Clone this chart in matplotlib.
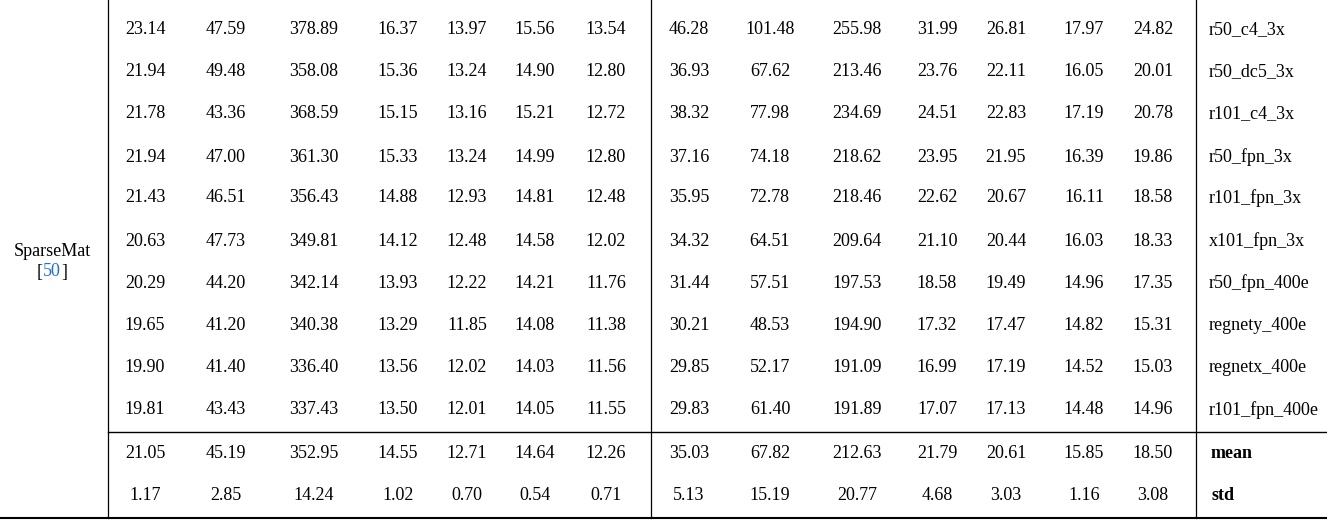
import matplotlib
matplotlib.use("Agg")
import matplotlib.pyplot as plt

method = "SparseMat"
ref = "50"
configs = ["r50_c4_3x","r50_dc5_3x","r101_c4_3x","r50_fpn_3x","r101_fpn_3x","x101_fpn_3x",
           "r50_fpn_400e","regnety_400e","regnetx_400e","r101_fpn_400e"]
values = [
 ["23.14","47.59","378.89","16.37","13.97","15.56","13.54","46.28","101.48","255.98","31.99","26.81","17.97","24.82"],
 ["21.94","49.48","358.08","15.36","13.24","14.90","12.80","36.93","67.62","213.46","23.76","22.11","16.05","20.01"],
 ["21.78","43.36","368.59","15.15","13.16","15.21","12.72","38.32","77.98","234.69","24.51","22.83","17.19","20.78"],
 ["21.94","47.00","361.30","15.33","13.24","14.99","12.80","37.16","74.18","218.62","23.95","21.95","16.39","19.86"],
 ["21.43","46.51","356.43","14.88","12.93","14.81","12.48","35.95","72.78","218.46","22.62","20.67","16.11","18.58"],
 ["20.63","47.73","349.81","14.12","12.48","14.58","12.02","34.32","64.51","209.64","21.10","20.44","16.03","18.33"],
 ["20.29","44.20","342.14","13.93","12.22","14.21","11.76","31.44","57.51","197.53","18.58","19.49","14.96","17.35"],
 ["19.65","41.20","340.38","13.29","11.85","14.08","11.38","30.21","48.53","194.90","17.32","17.47","14.82","15.31"],
 ["19.90","41.40","336.40","13.56","12.02","14.03","11.56","29.85","52.17","191.09","16.99","17.19","14.52","15.03"],
 ["19.81","43.43","337.43","13.50","12.01","14.05","11.55","29.83","61.40","191.89","17.07","17.13","14.48","14.96"],
]
summary_labels = ["mean","std"]
summary = [
 ["21.05","45.19","352.95","14.55","12.71","14.64","12.26","35.03","67.82","212.63","21.79","20.61","15.85","18.50"],
 ["1.17","2.85","14.24","1.02","0.70","0.54","0.71","5.13","15.19","20.77","4.68","3.03","1.16","3.08"],
]

W, H = 1327, 528
fig = plt.figure(figsize=(W/100, H/100), dpi=100)
ax = fig.add_axes([0, 0, 1, 1])
ax.set_xlim(0, W); ax.set_ylim(H, 0); ax.axis("off")
font = dict(family="Liberation Serif", fontsize=13, color="black")

colx = [145,226,314,398,467,535,606,689,770,857,937,1006,1084,1153]
rowy = [30,72,114,157,198,241,283,326,368,410]
sumy = [454,496]

for r, y in enumerate(rowy):
    for c, x in enumerate(colx):
        ax.text(x, y, values[r][c], ha="center", va="center", **font)
    ax.text(1209, y, configs[r], ha="left", va="center", **font)
for r, y in enumerate(sumy):
    for c, x in enumerate(colx):
        ax.text(x, y, summary[r][c], ha="center", va="center", **font)
    ax.text(1211, y, summary_labels[r], ha="left", va="center", fontweight="bold", **font)

ax.text(52, 252, method, ha="center", va="center", **font)
ax.text(43, 272, "[", ha="right", va="center", **font)
ax.text(52, 272, ref, ha="center", va="center", **{**font, "color": "#1f6fd0"})
ax.text(61, 272, "]", ha="left", va="center", **font)

for x in [108, 651, 1196]:
    ax.plot([x, x], [0, 518], color="black", lw=0.9)
ax.plot([108, W], [432, 432], color="black", lw=1.0)
ax.plot([0, W], [518, 518], color="black", lw=1.5)

fig.savefig("out.png", dpi=100)
